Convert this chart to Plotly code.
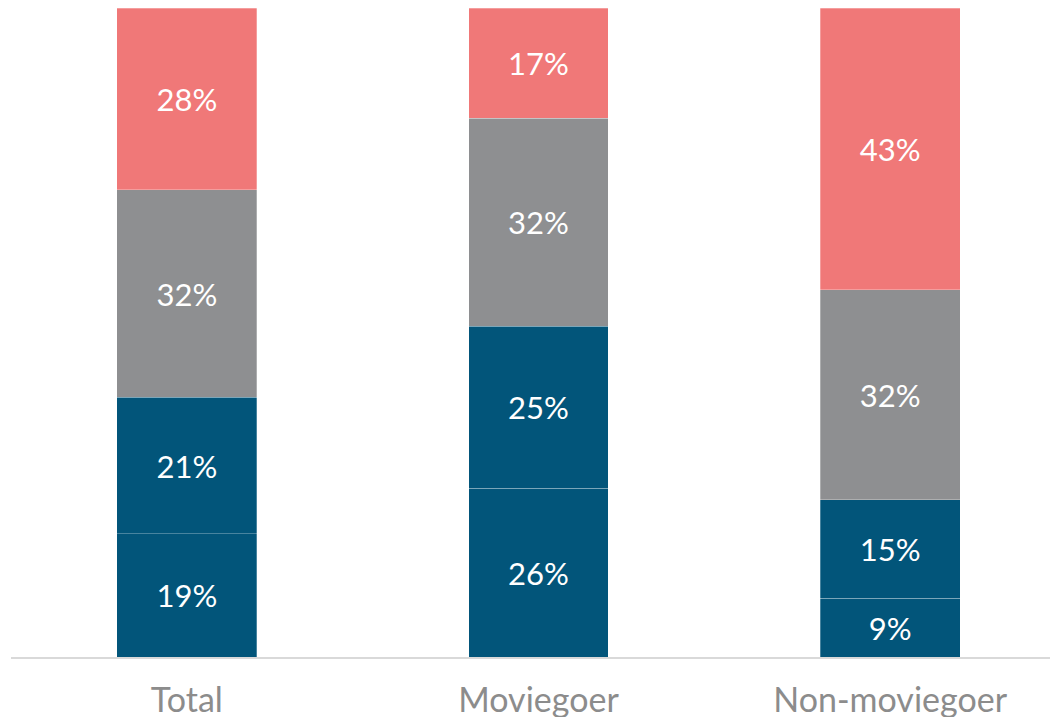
import plotly.graph_objects as go

categories = ["Total", "Moviegoer", "Non-moviegoer"]
seg1 = [19, 26, 9]
seg2 = [21, 25, 15]
seg3 = [32, 32, 32]
seg4 = [28, 17, 43]

series = [seg1, seg2, seg3, seg4]
colors = ["#02557A", "#02557A", "#8E8F91", "#F07878"]

fig = go.Figure()
for vals, col in zip(series, colors):
    fig.add_trace(go.Bar(
        x=categories, y=vals,
        marker=dict(color=col, line=dict(color="rgba(255,255,255,0.35)", width=0.8)),
        text=[f"{v}%" for v in vals],
        textposition="inside", insidetextanchor="middle",
        textfont=dict(color="white", size=31, family="Lato"),
        hoverinfo="skip",
    ))

fig.update_layout(
    barmode="stack", barnorm="percent",
    width=1058, height=717,
    margin=dict(l=3, r=0, t=0, b=68),
    paper_bgcolor="white", plot_bgcolor="white",
    showlegend=False, bargap=0.602,
    uniformtext=dict(mode=False),
)
fig.update_xaxes(
    range=[-0.5, 2.5], showline=True, linecolor="#D9D9D9", linewidth=2,
    ticks="", tickfont=dict(size=34, color="#8C8C8C", family="Lato"),
    ticklabelstandoff=12,
    showgrid=False, zeroline=False,
)
fig.update_yaxes(range=[0, 100], visible=False, showgrid=False, zeroline=False)

fig.write_html("out.html")
